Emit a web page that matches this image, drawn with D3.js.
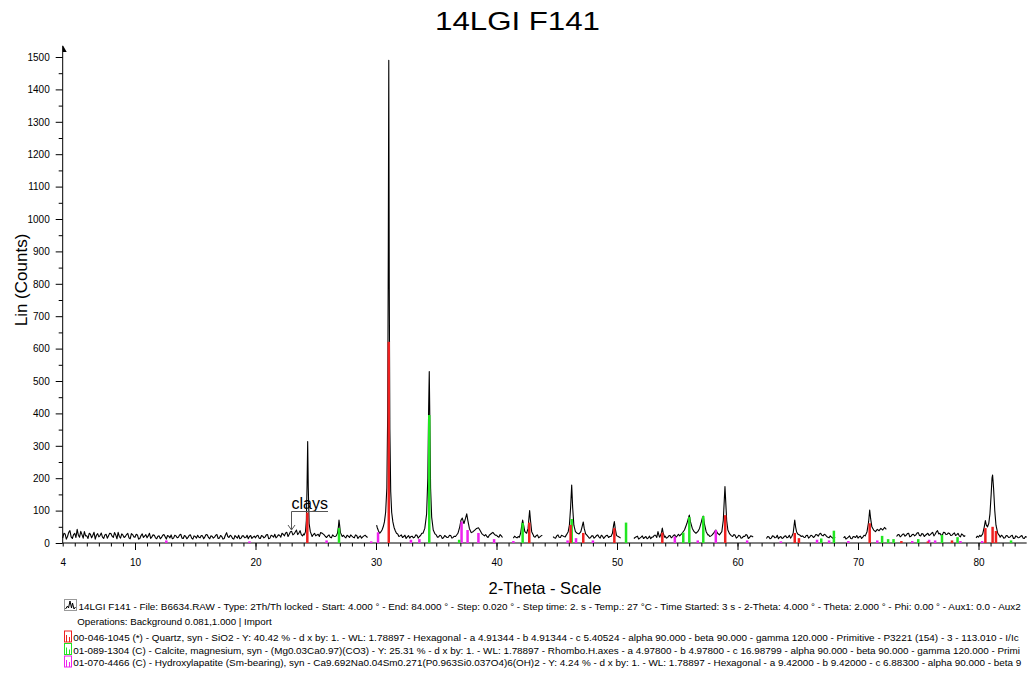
<!DOCTYPE html>
<html>
<head>
<meta charset="utf-8">
<script src="https://d3js.org/d3.v7.min.js"></script>
<style>
  body { margin: 0; background: #fff; }
  svg { display: block; font-family: "Liberation Sans", Arial, sans-serif; }
</style>
</head>
<body>
<div id="chart"></div>
<script>
// measured scan, background read every 0.2 deg from 4 to 84 (null = no data)
var bgStart = 4, bgStep = 0.2;
var bgCounts = [
  15, 28, 20, 38, 14, 30, 42, 18, 26, 35,   // 4
  22, 30, 16, 33, 24, 19, 31, 14, 27, 22,   // 6
  29, 17, 25, 33, 15, 24, 20, 30, 13, 26,   // 8
  18, 25, 14, 28, 21, 16, 30, 19, 24, 13,   // 10
  22, 17, 26, 12, 21, 25, 15, 22, 18, 27,   // 12
  14, 21, 17, 25, 12, 20, 24, 16, 22, 19,   // 14
  25, 13, 21, 18, 26, 15, 20, 14, 32, 17,   // 16
  21, 12, 19, 24, 15, 22, 17, 13, 23, 18,   // 18
  16, 24, 14, 21, 19, 26, 15, 22, 27, 20,   // 20
  24, 30, 22, 33, 27, 36, 28, 40, 31, 26,   // 22
  28, 30, 200, 40, 26, 22, 27, 32, 28, 20,  // 24
  22, 18, 25, 20, 40, 50, 22, 19, 24, 17,   // 26
  21, 16, 23, 19, 15, 22, 20, null, null, null, // 28
  null, 50, 38, 34, 50, 95, 600, 160, 48, 28, // 30
  22, 17, 24, 19, 15, 21, 18, 24, 20, 30,   // 32
  45, 200, 350, 60, 30, 25, 19, 22, 16, 20, // 34
  18, 23, 17, 22, 28, 40, 70, 65, 80, 50,   // 36
  38, 45, 42, 30, 24, 20, 20, 24, 30, 28,   // 38
  24, 18, 22, null, null, null, null, 15, 18, 20, // 40
  50, 40, 30, 90, 35, 22, 18, 25, 19, 24,   // 42
  null, null, null, null, 16, 22, 18, 24, 20, 27, // 44
  55, 150, 60, 30, 28, 35, 60, 28, 20, 16,  // 46
  22, 18, 25, 15, 21, 19, 24, 20, 30, 40,   // 48
  22, 18, null, null, null, null, null, 14, 19, 12, // 50
  18, 14, 20, 16, 13, 19, 24, 35, 20, 15,   // 52
  21, 17, 23, 19, 25, 22, 28, 40, 60, 85,   // 54
  80, 45, 35, 32, 45, 70, 80, 40, 25, 22,   // 56
  28, 40, 28, 30, 150, 130, 35, 25, 20, 24, // 58
  18, 22, 16, 20, 24, 17, 21, null, null, null, // 60
  null, null, 14, 19, 15, 21, 17, 13, 20, 16, // 62
  22, 18, 15, 30, 70, 35, 28, 22, 17, 24,   // 64
  19, 22, 20, 25, 28, 24, 27, 20, 16, 18,   // 66
  14, null, null, null, 16, 12, 18, 14, 20, 17, // 68
  15, 21, 18, 25, 30, 60, 75, 40, 38, 42,   // 70
  45, 40, null, null, null, null, 20, 26, 22, 28, // 72
  24, 30, 21, 27, 25, 32, 22, 28, 24, 30,   // 74
  26, 33, 27, 38, 30, 25, 32, 27, 29, 24,   // 76
  31, 26, 22, 28, 20, null, null, null, null, 16, // 78
  18, 22, 30, 60, 55, 150, 90, 30, 24, 18,  // 80
  21, 16, 22, 18, 24, 15, 20, 17, 23, 14,   // 82
  18                                        // 84
];

// background read at the midpoints 4.1, 4.3 ... 83.9
var bgMidStart = 4.1;
var bgCountsMid = [
  30, 12, 33, 19, 26, 17, 24, 36, 15, 22,   // 4.1
  14, 27, 24, 12, 29, 23, 18, 25, 15, 30,   // 6.1
  21, 32, 13, 20, 28, 17, 26, 16, 29, 19,   // 8.1
  27, 12, 23, 17, 26, 22, 14, 25, 16, 21,   // 10.1
  13, 24, 19, 23, 16, 13, 24, 16, 25, 15,   // 12.1
  23, 13, 24, 15, 22, 15, 18, 23, 13, 26,   // 14.1
  17, 22, 15, 24, 14, 23, 12, 24, 20, 24,   // 16.1
  14, 23, 15, 13, 22, 16, 24, 20, 14, 21,   // 18.1
  22, 15, 23, 16, 25, 13, 24, 18, 16, 25,   // 20.1
  18, 27, 31, 20, 35, 25, 34, 26, 38, 22,   // 22.1
  30, 200, 100, 20, 30, 25, 20, 31, 25, 17, // 24.1
  25, 16, 21, 25, 60, 30, 24, 16, 21, 25,   // 26.1
  18, 25, 14, 22, 19, 24, 17, null, null, null, // 28.1
  45, 33, 40, 70, 300, 800, 200, 55, 35, 20, // 30.1
  25, 20, 14, 23, 20, 16, 25, 15, 23, 26,   // 32.1
  60, 250, 400, 90, 35, 18, 24, 14, 23, 17, // 34.1
  24, 15, 21, 16, 22, 35, 60, 70, 60, 45,   // 36.1
  40, 45, 35, 28, 25, 26, 17, 27, 33, 24,   // 38.1
  20, 26, 17, null, null, null, null, 21, 16, 19, // 40.1
  55, 35, 35, 60, 50, 20, 23, 16, 22, null, // 42.1
  null, null, null, 20, 15, 25, 17, 22, 19, 30, // 44.1
  80, 100, 40, 30, 30, 45, 55, 24, 15, 22,  // 46.1
  15, 23, 19, 24, 14, 23, 17, 25, 45, 30,   // 48.1
  20, 15, null, null, null, null, null, 17, 21, 15, // 50.1
  22, 17, 13, 21, 18, 24, 17, 21, 38, 22,   // 52.1
  15, 22, 16, 24, 18, 27, 20, 35, 50, 75,   // 54.1
  55, 35, 30, 40, 60, 85, 45, 30, 20, 27,   // 56.1
  35, 33, 26, 40, 160, 100, 30, 20, 26, 15, // 58.1
  24, 15, 21, 26, 14, 22, 18, null, null, null, // 60.1
  null, null, 20, 13, 22, 16, 24, 18, 14, 21, // 62.1
  16, 24, 19, 40, 60, 30, 25, 18, 23, 15,   // 64.1
  24, 17, 26, 21, 30, 22, 25, 18, 22, 15,   // 66.1
  18, null, null, null, 20, 15, 22, 13, 19, 23, // 68.1
  19, 14, 24, 20, 50, 90, 50, 40, 45, 38,   // 70.1
  42, 46, null, null, null, null, 25, 19, 27, 21, // 72.1
  29, 19, 26, 22, 31, 23, 29, 20, 27, 23,   // 74.1
  30, 22, 34, 28, 24, 33, 26, 31, 23, 28,   // 76.1
  23, 30, 19, 25, 23, null, null, null, null, 21, // 78.1
  24, 25, 40, 55, 70, 200, 60, 25, 20, 24,  // 80.1
  15, 23, 17, 22, 14, 22, 16, 21, 15, 20    // 82.1
];

// peak profiles [2theta, counts], read at finer spacing
var peakProfiles = [
  [[24.05, 25], [24.15, 35], [24.22, 70], [24.28, 180], [24.33, 313], [24.38, 170], [24.45, 60], [24.55, 35], [24.65, 25]],
  [[26.7, 22], [26.8, 30], [26.88, 50], [26.93, 71], [26.98, 55], [27.05, 32], [27.2, 20]],
  [[30.05, 55], [30.1, 48], [30.2, 38], [30.3, 30], [30.4, 34], [30.5, 40], [30.6, 50], [30.7, 65], [30.8, 95],
   [30.9, 170], [30.97, 400], [31.02, 900], [31.06, 1490], [31.1, 800], [31.15, 350], [31.22, 160], [31.3, 95],
   [31.4, 65], [31.5, 48], [31.6, 38], [31.7, 30]],
  [[33.9, 30], [34.05, 45], [34.2, 90], [34.3, 200], [34.37, 420], [34.42, 529], [34.47, 380], [34.53, 170],
   [34.62, 80], [34.75, 40], [34.9, 28]],
  [[36.6, 20], [36.8, 30], [36.95, 50], [37.05, 70], [37.16, 77], [37.3, 60], [37.42, 75], [37.53, 90], [37.62, 70],
   [37.75, 45], [37.9, 32], [38.05, 35], [38.2, 40], [38.35, 45], [38.5, 47], [38.62, 40], [38.8, 28], [39.0, 22]],
  [[41.9, 18], [42.0, 30], [42.1, 55], [42.17, 71], [42.25, 55], [42.35, 35], [42.5, 30], [42.62, 45], [42.7, 80],
   [42.75, 100], [42.82, 70], [42.92, 35], [43.05, 25]],
  [[45.8, 25], [45.95, 35], [46.05, 55], [46.15, 110], [46.24, 179], [46.32, 110], [46.42, 55], [46.55, 35],
   [46.7, 30], [46.85, 28], [47.0, 35], [47.1, 50], [47.2, 65], [47.28, 45], [47.4, 28]],
  [[49.5, 20], [49.62, 30], [49.72, 55], [49.78, 66], [49.85, 45], [49.95, 25]],
  [[53.55, 18], [53.68, 30], [53.76, 46], [53.84, 30], [53.95, 18]],
  [[55.2, 22], [55.4, 30], [55.6, 40], [55.8, 60], [55.95, 80], [56.0, 86], [56.1, 65], [56.25, 45], [56.4, 35],
   [56.55, 30], [56.7, 35], [56.85, 45], [57.0, 65], [57.1, 80], [57.16, 83], [57.25, 60], [57.4, 35], [57.55, 25]],
  [[57.9, 25], [58.05, 32], [58.2, 40], [58.35, 30], [58.5, 25], [58.7, 35], [58.82, 70], [58.9, 130], [58.96, 174],
   [59.02, 130], [59.1, 70], [59.2, 40], [59.35, 28], [59.5, 22]],
  [[64.5, 20], [64.62, 30], [64.7, 55], [64.75, 71], [64.82, 50], [64.9, 35], [65.0, 28], [65.15, 25], [65.3, 20]],
  [[70.6, 22], [70.75, 35], [70.88, 65], [70.97, 102], [71.05, 75], [71.15, 50], [71.3, 40], [71.45, 35], [71.6, 42],
   [71.75, 38], [71.9, 45], [72.05, 40], [72.2, 48], [72.35, 42]],
  [[80.2, 20], [80.35, 28], [80.48, 50], [80.57, 69], [80.65, 55], [80.75, 50], [80.85, 60], [80.95, 90], [81.05, 150],
   [81.12, 200], [81.17, 210], [81.25, 170], [81.35, 100], [81.45, 55], [81.6, 30], [81.75, 22]]
];

// reference patterns (stick positions, heights)
var quartzSticks = [[24.3, 94], [31.06, 621], [42.72, 63], [46.15, 56], [47.2, 31], [49.78, 46], [53.76, 32],
  [58.98, 86], [64.75, 31], [65.1, 15], [70.97, 61], [73.6, 6], [75.8, 5], [77.8, 8], [80.57, 46], [81.17, 50], [81.45, 37]];
var calciteSticks = [[26.93, 46], [34.42, 395], [36.9, 10], [42.17, 62], [46.24, 74], [50.75, 63], [55.5, 32],
  [56.0, 80], [57.16, 83], [66.95, 14], [68.0, 38], [72.0, 22], [72.5, 12], [72.95, 12], [75.0, 12], [76.97, 25],
  [78.26, 18], [82.7, 8]];
var apatiteSticks = [[12.6, 8], [19.5, 5], [25.9, 8], [29.6, 5], [30.17, 33], [32.9, 10], [33.6, 12], [37.1, 66],
  [37.6, 40], [38.5, 31], [39.8, 12], [41.4, 6], [45.9, 8], [46.6, 15], [48.0, 8], [54.8, 20], [56.7, 8], [58.2, 40],
  [60.8, 8], [63.6, 5], [66.6, 10], [67.6, 8], [69.2, 6], [71.6, 8], [74.5, 6], [75.9, 10], [76.4, 8], [78.5, 6], [80.3, 6]];

var yTickValues = [0, 100, 200, 300, 400, 500, 600, 700, 800, 900, 1000, 1100, 1200, 1300, 1400, 1500];
var xTickValues = [4, 10, 20, 30, 40, 50, 60, 70, 80];

var legendLines = [
  "14LGI F141 - File: B6634.RAW - Type: 2Th/Th locked - Start: 4.000 \u00b0 - End: 84.000 \u00b0 - Step: 0.020 \u00b0 - Step time: 2. s - Temp.: 27 \u00b0C - Time Started: 3 s - 2-Theta: 4.000 \u00b0 - Theta: 2.000 \u00b0 - Phi: 0.00 \u00b0 - Aux1: 0.0 - Aux2",
  "Operations: Background 0.081,1.000 | Import",
  "00-046-1045 (*) - Quartz, syn - SiO2 - Y: 40.42 % - d x by: 1. - WL: 1.78897 - Hexagonal - a 4.91344 - b 4.91344 - c 5.40524 - alpha 90.000 - beta 90.000 - gamma 120.000 - Primitive - P3221 (154) - 3 - 113.010 - I/Ic",
  "01-089-1304 (C) - Calcite, magnesium, syn - (Mg0.03Ca0.97)(CO3) - Y: 25.31 % - d x by: 1. - WL: 1.78897 - Rhombo.H.axes - a 4.97800 - b 4.97800 - c 16.98799 - alpha 90.000 - beta 90.000 - gamma 120.000 - Primi",
  "01-070-4466 (C) - Hydroxylapatite (Sm-bearing), syn - Ca9.692Na0.04Sm0.271(P0.963Si0.037O4)6(OH)2 - Y: 4.24 % - d x by: 1. - WL: 1.78897 - Hexagonal - a 9.42000 - b 9.42000 - c 6.88300 - alpha 90.000 - beta 9"
];
var legendColors = [null, null, "#ee2020", "#22e622", "#ee22ee"];

var width = 1028, height = 673;
var svg = d3.select("#chart").append("svg")
  .attr("width", width)
  .attr("height", height);

var x = d3.scaleLinear().domain([4, 84]).range([62.7, 1026.7]);
var y = d3.scaleLinear().domain([0, 1500]).range([543, 57]);

// merge background with peak profiles
var windows = peakProfiles.map(function(p) { return [p[0][0], p[p.length - 1][0]]; });
var scan = [];
function addBackground(counts, start) {
  counts.forEach(function(c, i) {
    var t = +(start + i * bgStep).toFixed(2);
    var inPeak = windows.some(function(w) { return t >= w[0] && t <= w[1]; });
    if (!inPeak) scan.push([t, c]);
  });
}
addBackground(bgCounts, bgStart);
addBackground(bgCountsMid, bgMidStart);
peakProfiles.forEach(function(p) { p.forEach(function(d) { scan.push(d); }); });
scan.sort(function(a, b) { return a[0] - b[0]; });

// title
svg.append("text")
  .attr("x", 517.5).attr("y", 30)
  .attr("text-anchor", "middle")
  .attr("font-size", 25)
  .attr("textLength", 165)
  .attr("lengthAdjust", "spacingAndGlyphs")
  .text("14LGI F141");

// y axis
var yAxis = svg.append("g")
  .attr("transform", "translate(" + x(4) + ",0)")
  .call(d3.axisLeft(y).tickValues(yTickValues).tickSize(7).tickPadding(6).tickFormat(d3.format("d")));
yAxis.select(".domain").remove();
yAxis.selectAll("text").attr("font-size", 10).attr("font-family", "Liberation Sans, Arial, sans-serif");

var yMinor = svg.append("g")
  .attr("transform", "translate(" + x(4) + ",0)")
  .call(d3.axisLeft(y).tickValues(d3.range(50, 1500, 100)).tickSize(4).tickFormat(""));
yMinor.select(".domain").remove();

svg.append("line")
  .attr("x1", x(4)).attr("x2", x(4))
  .attr("y1", y(0)).attr("y2", 46)
  .attr("stroke", "#000");
svg.append("path")
  .attr("d", "M" + x(4) + ",45 L" + (x(4) + 4) + ",52 L" + x(4) + ",52 Z")
  .attr("fill", "#000");

// x axis
var xAxis = svg.append("g")
  .attr("transform", "translate(0," + y(0) + ")")
  .call(d3.axisBottom(x).tickValues(xTickValues).tickSize(7).tickPadding(9).tickFormat(d3.format("d")));
xAxis.select(".domain").remove();
xAxis.selectAll("text").attr("font-size", 10).attr("font-family", "Liberation Sans, Arial, sans-serif");
xAxis.selectAll(".tick").filter(function(d) { return d === 4; }).select("line").attr("y2", 3.5);

var xMinor = svg.append("g")
  .attr("transform", "translate(0," + y(0) + ")")
  .call(d3.axisBottom(x).tickValues(d3.range(5, 84, 1)).tickSize(3.5).tickFormat(""));
xMinor.select(".domain").remove();

svg.append("line")
  .attr("x1", x(4)).attr("x2", x(84))
  .attr("y1", y(0)).attr("y2", y(0))
  .attr("stroke", "#000");

// axis titles
svg.append("text")
  .attr("transform", "translate(27,280) rotate(-90)")
  .attr("text-anchor", "middle")
  .attr("font-size", 17)
  .text("Lin (Counts)");

svg.append("text")
  .attr("x", 545).attr("y", 594)
  .attr("text-anchor", "middle")
  .attr("font-size", 16.5)
  .text("2-Theta - Scale");

// scan trace
var line = d3.line()
  .defined(function(d) { return d[1] !== null; })
  .x(function(d) { return x(d[0]); })
  .y(function(d) { return y(d[1]); });

svg.append("path")
  .datum(scan)
  .attr("fill", "none")
  .attr("stroke", "#000")
  .attr("stroke-width", 1.1)
  .attr("stroke-linejoin", "round")
  .attr("d", line);

// stick patterns
function drawSticks(data, color) {
  svg.append("g")
    .selectAll("line")
    .data(data)
    .enter()
    .append("line")
    .attr("x1", function(d) { return x(d[0]); })
    .attr("x2", function(d) { return x(d[0]); })
    .attr("y1", y(0))
    .attr("y2", function(d) { return y(d[1]); })
    .attr("stroke", color)
    .attr("stroke-width", 2.5);
}
drawSticks(apatiteSticks, legendColors[4]);
drawSticks(calciteSticks, legendColors[3]);
drawSticks(quartzSticks, legendColors[2]);

// clays annotation
var clays = svg.append("g");
clays.append("text")
  .attr("x", 291.5).attr("y", 508.5)
  .attr("font-size", 16)
  .text("clays");
clays.append("path")
  .attr("d", "M328,511.5 H291.5 V529.5 M288,525 L291.5,530 L295,525")
  .attr("fill", "none")
  .attr("stroke", "#555")
  .attr("stroke-width", 1);

// legend: font size chosen so each line fills the width it has in the picture
var legendY = [610, 625, 641, 653.5, 666];
var legendX = [78.5, 77.3, 73.3, 73.3, 73.3];
var legendEnd = [1022, 271.7, 1020, 1022, 1022];

legendLines.forEach(function(s, i) {
  var t = svg.append("text")
    .attr("x", legendX[i]).attr("y", legendY[i])
    .attr("font-size", 10)
    .text(s);
  var natural = t.node().getComputedTextLength();
  var target = legendEnd[i] - legendX[i];
  if (natural > target) t.attr("font-size", (10 * target / natural).toFixed(2));
  var c = legendColors[i];
  if (c) {
    var top = legendY[i] - 10;
    svg.append("rect")
      .attr("x", 64.5).attr("y", top)
      .attr("width", 7).attr("height", 11)
      .attr("fill", "none").attr("stroke", c).attr("stroke-width", 1);
    svg.append("path")
      .attr("d", "M66.5," + (top + 11) + "V" + (top + 4) + "M69.5," + (top + 11) + "V" + (top + 6))
      .attr("stroke", c).attr("stroke-width", 1);
  }
});

// scan icon
svg.append("rect")
  .attr("x", 64.5).attr("y", 599.5)
  .attr("width", 12).attr("height", 11)
  .attr("fill", "#fff").attr("stroke", "#999");
svg.append("path")
  .attr("d", "M65.5,609 L67.5,606 L68.5,608 L70,601 L71.5,608 L72.5,603 L74,609 L75.5,607")
  .attr("fill", "none").attr("stroke", "#000").attr("stroke-width", 1);
</script>
</body>
</html>
